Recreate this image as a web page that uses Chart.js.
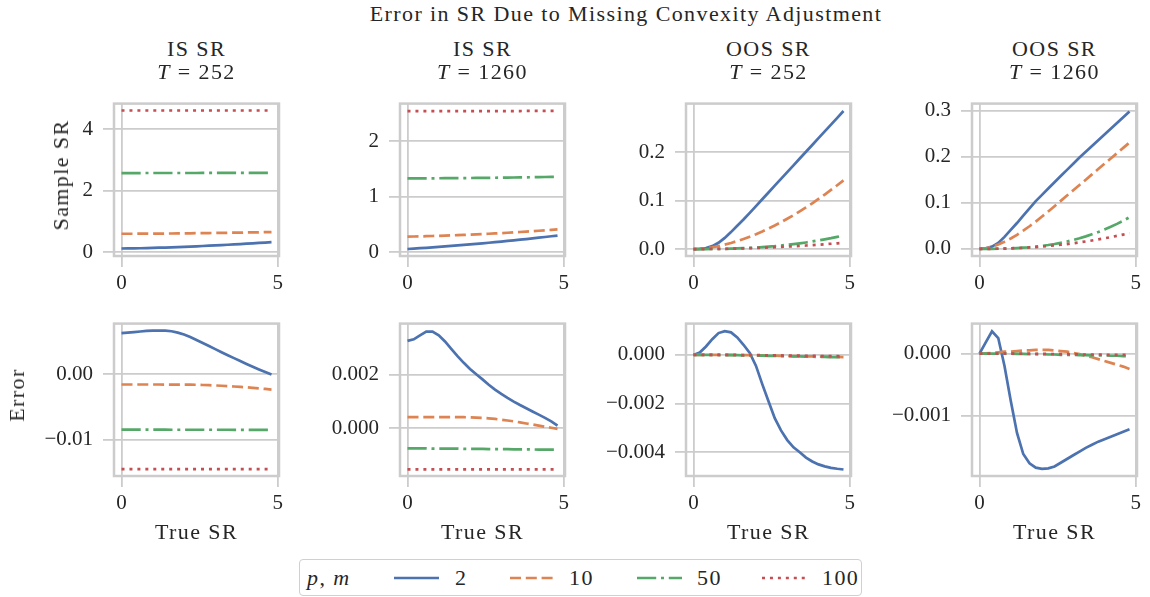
<!DOCTYPE html>
<html>
<head>
<meta charset="utf-8">
<script src="https://cdn.jsdelivr.net/npm/chart.js@4.4.0/dist/chart.umd.min.js"></script>
<style>
  body { margin: 0; width: 1150px; height: 597px; overflow: hidden; position: relative; background: #fff; color: #262626; }
  canvas { position: absolute; }
  .txt { position: absolute; white-space: nowrap; line-height: 1; letter-spacing: 1.4px; }
  #legend { position: absolute; left: 299px; top: 559px; width: 561px; height: 35px;
            border: 1.5px solid #d0d0d0; border-radius: 4px; background: #fff; }
  #legend .txt { font-size: 22px; }
  #legend svg { position: absolute; }
</style>
</head>
<body>
<script>
// x values (True SR) shared by every panel
const trueSR = [0, 0.2, 0.4, 0.6, 0.8, 1.0, 1.2, 1.4, 1.6, 1.8, 2.0, 2.2, 2.4, 2.6, 2.8, 3.0, 3.2, 3.4, 3.6, 3.8, 4.0, 4.2, 4.4, 4.6, 4.8];
const pmValues = ['2', '10', '50', '100'];

// --- top row: sample SR ---
const isT252_p2   = [0.120, 0.122, 0.125, 0.129, 0.134, 0.139, 0.146, 0.152, 0.160, 0.167, 0.176, 0.184, 0.193, 0.202, 0.212, 0.222, 0.232, 0.243, 0.254, 0.265, 0.277, 0.289, 0.301, 0.313, 0.326];
const isT252_p10  = [0.600, 0.600, 0.601, 0.602, 0.603, 0.604, 0.605, 0.607, 0.609, 0.611, 0.613, 0.615, 0.618, 0.620, 0.623, 0.626, 0.629, 0.632, 0.635, 0.638, 0.641, 0.645, 0.648, 0.652, 0.655];
const isT252_p50  = [2.573, 2.573, 2.573, 2.573, 2.574, 2.574, 2.574, 2.574, 2.574, 2.575, 2.575, 2.575, 2.575, 2.576, 2.576, 2.576, 2.576, 2.577, 2.577, 2.577, 2.577, 2.578, 2.578, 2.578, 2.578];
const isT252_p100 = [4.605, 4.605, 4.605, 4.605, 4.605, 4.605, 4.605, 4.605, 4.605, 4.605, 4.605, 4.605, 4.605, 4.605, 4.605, 4.605, 4.605, 4.605, 4.605, 4.605, 4.605, 4.605, 4.605, 4.605, 4.605];

const isT1260_p2   = [0.057, 0.064, 0.072, 0.079, 0.087, 0.095, 0.104, 0.112, 0.121, 0.131, 0.140, 0.150, 0.160, 0.170, 0.181, 0.191, 0.203, 0.214, 0.225, 0.237, 0.249, 0.262, 0.274, 0.287, 0.300];
const isT1260_p10  = [0.280, 0.283, 0.285, 0.288, 0.292, 0.295, 0.299, 0.303, 0.307, 0.312, 0.317, 0.322, 0.327, 0.332, 0.338, 0.344, 0.350, 0.357, 0.364, 0.371, 0.378, 0.386, 0.394, 0.402, 0.410];
const isT1260_p50  = [1.330, 1.330, 1.331, 1.331, 1.332, 1.333, 1.334, 1.335, 1.336, 1.337, 1.338, 1.339, 1.340, 1.341, 1.342, 1.344, 1.345, 1.347, 1.349, 1.350, 1.352, 1.354, 1.356, 1.358, 1.360];
const isT1260_p100 = [2.543, 2.543, 2.543, 2.543, 2.544, 2.544, 2.544, 2.544, 2.544, 2.545, 2.545, 2.545, 2.545, 2.545, 2.546, 2.546, 2.546, 2.546, 2.546, 2.547, 2.547, 2.547, 2.547, 2.548, 2.548];

const oosT252_p2   = [0, 0.0004, 0.002, 0.006, 0.013, 0.023, 0.035, 0.048, 0.061, 0.0747, 0.0887, 0.1027, 0.1167, 0.1307, 0.1447, 0.1587, 0.1727, 0.1867, 0.2007, 0.2147, 0.2287, 0.2427, 0.2567, 0.2707, 0.2847];
const oosT252_p10  = [0, 0.0005, 0.0018, 0.0037, 0.0062, 0.0091, 0.0126, 0.0165, 0.0208, 0.0256, 0.0307, 0.0363, 0.0423, 0.0486, 0.0553, 0.0625, 0.0698, 0.0777, 0.0859, 0.0944, 0.1033, 0.1124, 0.1219, 0.1317, 0.1417];
const oosT252_p50  = [0, 0.00001, 0.00006, 0.00015, 0.0003, 0.00056, 0.00088, 0.0013, 0.0018, 0.0024, 0.0031, 0.0040, 0.0050, 0.0060, 0.0073, 0.0087, 0.0102, 0.0118, 0.0136, 0.0156, 0.0178, 0.0201, 0.0225, 0.0252, 0.0280];
const oosT252_p100 = [0, 0.00002, 0.00009, 0.0002, 0.00036, 0.00056, 0.00081, 0.0011, 0.00144, 0.00183, 0.00226, 0.00273, 0.00325, 0.00381, 0.00442, 0.00508, 0.00578, 0.00652, 0.00731, 0.00814, 0.00902, 0.00995, 0.01092, 0.01193, 0.0130];

const oosT1260_p2   = [0, 0.001, 0.005, 0.013, 0.026, 0.041, 0.056, 0.072, 0.088, 0.1035, 0.117, 0.1308, 0.1445, 0.158, 0.1713, 0.1847, 0.198, 0.2105, 0.223, 0.2355, 0.248, 0.2605, 0.273, 0.2855, 0.298];
const oosT1260_p10  = [0, 0.001, 0.0045, 0.0095, 0.0155, 0.0225, 0.0305, 0.0395, 0.049, 0.059, 0.070, 0.081, 0.0925, 0.104, 0.1155, 0.127, 0.1385, 0.150, 0.1615, 0.173, 0.1845, 0.196, 0.2075, 0.219, 0.2305];
const oosT1260_p50  = [0, 0.00001, 0.00008, 0.00025, 0.00054, 0.00099, 0.0016, 0.0025, 0.0035, 0.0049, 0.0065, 0.0083, 0.0105, 0.0131, 0.016, 0.0193, 0.0229, 0.027, 0.0316, 0.0365, 0.0419, 0.0478, 0.0541, 0.0609, 0.0686];
const oosT1260_p100 = [0, 0.00003, 0.00014, 0.00035, 0.00066, 0.00108, 0.00161, 0.00226, 0.00304, 0.00393, 0.00496, 0.00612, 0.00741, 0.00883, 0.0104, 0.0121, 0.0140, 0.0160, 0.0181, 0.0204, 0.0228, 0.0254, 0.0281, 0.0310, 0.0340];

// --- bottom row: error ---
const errIsT252_p2   = [0.00634, 0.00641, 0.00649, 0.00658, 0.00666, 0.00671, 0.00673, 0.00671, 0.00662, 0.00641, 0.00612, 0.00572, 0.00527, 0.00481, 0.00434, 0.00387, 0.00340, 0.00294, 0.00249, 0.00204, 0.00160, 0.00117, 0.00075, 0.00035, -0.00003];
const errIsT252_p10  = [-0.00156, -0.00156, -0.00156, -0.00156, -0.00156, -0.00156, -0.00156, -0.00157, -0.00157, -0.00158, -0.00158, -0.00159, -0.00160, -0.00163, -0.00166, -0.00170, -0.00175, -0.00180, -0.00186, -0.00192, -0.00199, -0.00207, -0.00215, -0.00224, -0.00234];
const errIsT252_p50  = [-0.00849, -0.00849, -0.00849, -0.00849, -0.00849, -0.00849, -0.00849, -0.00849, -0.00850, -0.00850, -0.00850, -0.00850, -0.00850, -0.00850, -0.00850, -0.00850, -0.00850, -0.00850, -0.00851, -0.00851, -0.00851, -0.00851, -0.00851, -0.00851, -0.00851];
const errIsT252_p100 = [-0.01455, -0.01455, -0.01455, -0.01455, -0.01455, -0.01455, -0.01455, -0.01455, -0.01455, -0.01455, -0.01455, -0.01455, -0.01455, -0.01455, -0.01455, -0.01455, -0.01455, -0.01455, -0.01455, -0.01455, -0.01455, -0.01455, -0.01455, -0.01455, -0.01455];

const errIsT1260_p2   = [0.00327, 0.00333, 0.00348, 0.00362, 0.00362, 0.00348, 0.00325, 0.00297, 0.00270, 0.00245, 0.00222, 0.00202, 0.00183, 0.00163, 0.00145, 0.00129, 0.00114, 0.00100, 0.00087, 0.00075, 0.00063, 0.00051, 0.00039, 0.00026, 0.00010];
const errIsT1260_p10  = [0.00042, 0.00042, 0.00042, 0.00042, 0.00042, 0.00042, 0.00042, 0.00042, 0.00042, 0.000415, 0.00041, 0.00040, 0.00039, 0.00037, 0.00035, 0.00032, 0.00029, 0.00026, 0.00022, 0.00018, 0.00014, 0.00010, 0.00006, 0.00002, -0.00002];
const errIsT1260_p50  = [-0.00075, -0.00075, -0.00075, -0.00075, -0.00076, -0.00076, -0.00076, -0.00076, -0.00076, -0.00077, -0.00077, -0.00077, -0.00077, -0.00078, -0.00078, -0.00078, -0.00078, -0.00079, -0.00079, -0.00079, -0.00079, -0.00080, -0.00080, -0.00080, -0.00080];
const errIsT1260_p100 = [-0.00154, -0.00154, -0.00154, -0.00154, -0.00154, -0.00154, -0.00154, -0.00154, -0.00154, -0.00154, -0.00154, -0.00154, -0.00154, -0.00154, -0.00154, -0.00154, -0.00154, -0.00154, -0.00154, -0.00154, -0.00154, -0.00154, -0.00154, -0.00154, -0.00154];

const errOosT252_p2   = [0, 0.0001, 0.00035, 0.00065, 0.0009, 0.00098, 0.00093, 0.00072, 0.00042, 0.00008, -0.00045, -0.0012, -0.0019, -0.0026, -0.0031, -0.0035, -0.0038, -0.0040, -0.00422, -0.00438, -0.0045, -0.00458, -0.00464, -0.00468, -0.00471];
const errOosT252_p10  = [0, 0, 0, 0, 0, 0, 0, -0.00001, -0.00001, -0.00001, -0.00002, -0.00002, -0.00003, -0.00003, -0.00004, -0.00004, -0.00005, -0.00005, -0.00006, -0.00006, -0.00007, -0.00007, -0.00008, -0.00008, -0.00009];
const errOosT252_p50  = [0, 0, 0, 0, 0, -0.00001, -0.00001, -0.00001, -0.00002, -0.00002, -0.00003, -0.00003, -0.00004, -0.00004, -0.00005, -0.00005, -0.00006, -0.00006, -0.00007, -0.00007, -0.00008, -0.00008, -0.00009, -0.00009, -0.00010];
const errOosT252_p100 = [0, 0, 0, 0, 0, 0, 0, 0, -0.00001, -0.00001, -0.00001, -0.00001, -0.00002, -0.00002, -0.00002, -0.00003, -0.00003, -0.00003, -0.00004, -0.00004, -0.00004, -0.00005, -0.00005, -0.00005, -0.00006];

const errOosT1260_p2   = [0, 0.00018, 0.00036, 0.00025, -0.0002, -0.00076, -0.00128, -0.00162, -0.00177, -0.00184, -0.00186, -0.00185, -0.00182, -0.00176, -0.0017, -0.00164, -0.00158, -0.00152, -0.00147, -0.00142, -0.00138, -0.00134, -0.0013, -0.00126, -0.00122];
const errOosT1260_p10  = [0, 0.000005, 0.00001, 0.00002, 0.00003, 0.00003, 0.00004, 0.00005, 0.00005, 0.00006, 0.00006, 0.00006, 0.00005, 0.00004, 0.00003, 0.00001, -0.00001, -0.00004, -0.00006, -0.00009, -0.00012, -0.00015, -0.00018, -0.00021, -0.00025];
const errOosT1260_p50  = [0, 0, 0, 0, 0, 0, -0.000005, -0.000005, -0.00001, -0.00001, -0.00001, -0.000015, -0.000015, -0.00002, -0.00002, -0.00002, -0.000025, -0.000025, -0.00003, -0.00003, -0.00003, -0.000035, -0.000035, -0.00004, -0.00004];
const errOosT1260_p100 = [0, 0, 0, 0, 0, 0, 0, 0, 0, -0.000005, -0.000005, -0.000005, -0.00001, -0.00001, -0.00001, -0.00001, -0.000015, -0.000015, -0.000015, -0.000015, -0.00002, -0.00002, -0.00002, -0.00002, -0.00002];

// tick values and labels
const xTicks = [0, 5];
const xTickLabels = ['0', '5'];
const yTicksIsT252 = [0, 2, 4];                 const yLabelsIsT252 = ['0', '2', '4'];
const yTicksIsT1260 = [0, 1, 2];                const yLabelsIsT1260 = ['0', '1', '2'];
const yTicksOosT252 = [0, 0.1, 0.2];            const yLabelsOosT252 = ['0.0', '0.1', '0.2'];
const yTicksOosT1260 = [0, 0.1, 0.2, 0.3];      const yLabelsOosT1260 = ['0.0', '0.1', '0.2', '0.3'];
const yTicksErrIsT252 = [-0.01, 0];             const yLabelsErrIsT252 = ['\u22120.01', '0.00'];
const yTicksErrIsT1260 = [0, 0.002];            const yLabelsErrIsT1260 = ['0.000', '0.002'];
const yTicksErrOosT252 = [-0.004, -0.002, 0];   const yLabelsErrOosT252 = ['\u22120.004', '\u22120.002', '0.000'];
const yTicksErrOosT1260 = [-0.001, 0];          const yLabelsErrOosT1260 = ['\u22120.001', '0.000'];

const colTitles = ['IS SR', 'IS SR', 'OOS SR', 'OOS SR'];
const colT = ['252', '1260', '252', '1260'];

// layout (px)
const COLS = [114, 400, 686, 972], ROWS = [95, 315], BW = 165, BH = 161;
const PL = 110, PT = 14, PR = 10, PB = 45;
const GRID = '#cccccc';
const styles = [
  { color: '#4c72b0', dash: [] },
  { color: '#dd8452', dash: [11, 4.8] },
  { color: '#55a868', dash: [19.2, 4.8, 3, 4.8] },
  { color: '#c44e52', dash: [3, 4.95] }
];

// pick the first installed serif face (stand-in for Computer Modern)
function fontAvailable(name) {
  const c = document.createElement('canvas').getContext('2d');
  const s = 'abcdefghijklmnopqrstuvwxyzABCDEFGHIJ0123456789';
  return ['monospace', 'sans-serif'].some(g => {
    c.font = '40px ' + g;
    const w0 = c.measureText(s).width;
    c.font = '40px "' + name + '", ' + g;
    return Math.abs(c.measureText(s).width - w0) > 0.5;
  });
}
const serifName = ['Liberation Serif', 'Times New Roman', 'Tinos', 'DejaVu Serif', 'Noto Serif']
  .find(fontAvailable);
const FONT = serifName ? '"' + serifName + '", serif' : 'serif';
document.body.style.fontFamily = FONT;

Chart.defaults.font.family = FONT;
Chart.defaults.color = '#262626';

const panels = [
  { col: 0, row: 0, series: [isT252_p2, isT252_p10, isT252_p50, isT252_p100], yMin: -0.123, yMax: 4.83, yTicks: yTicksIsT252, yLabels: yLabelsIsT252 },
  { col: 1, row: 0, series: [isT1260_p2, isT1260_p10, isT1260_p50, isT1260_p100], yMin: -0.069, yMax: 2.68, yTicks: yTicksIsT1260, yLabels: yLabelsIsT1260 },
  { col: 2, row: 0, series: [oosT252_p2, oosT252_p10, oosT252_p50, oosT252_p100], yMin: -0.0143, yMax: 0.300, yTicks: yTicksOosT252, yLabels: yLabelsOosT252 },
  { col: 3, row: 0, series: [oosT1260_p2, oosT1260_p10, oosT1260_p50, oosT1260_p100], yMin: -0.0155, yMax: 0.315, yTicks: yTicksOosT1260, yLabels: yLabelsOosT1260 },
  { col: 0, row: 1, series: [errIsT252_p2, errIsT252_p10, errIsT252_p50, errIsT252_p100], yMin: -0.0156, yMax: 0.00779, yTicks: yTicksErrIsT252, yLabels: yLabelsErrIsT252 },
  { col: 1, row: 1, series: [errIsT1260_p2, errIsT1260_p10, errIsT1260_p50, errIsT1260_p100], yMin: -0.001786, yMax: 0.003918, yTicks: yTicksErrIsT1260, yLabels: yLabelsErrIsT1260 },
  { col: 2, row: 1, series: [errOosT252_p2, errOosT252_p10, errOosT252_p50, errOosT252_p100], yMin: -0.004977, yMax: 0.00129, yTicks: yTicksErrOosT252, yLabels: yLabelsErrOosT252 },
  { col: 3, row: 1, series: [errOosT1260_p2, errOosT1260_p10, errOosT1260_p50, errOosT1260_p100], yMin: -0.001974, yMax: 0.000483, yTicks: yTicksErrOosT1260, yLabels: yLabelsErrOosT1260 }
];

// spines on all four sides, drawn over the lines like matplotlib
const boxPlugin = {
  id: 'box',
  afterDatasetsDraw(chart) {
    const { ctx, chartArea: a } = chart;
    ctx.save();
    ctx.strokeStyle = GRID;
    ctx.lineWidth = 2.5;
    ctx.strokeRect(a.left, a.top, a.right - a.left, a.bottom - a.top);
    ctx.restore();
  }
};

function makePanel(p) {
  const cv = document.createElement('canvas');
  const w = PL + BW + PR, h = PT + BH + PB;
  cv.width = w; cv.height = h;
  cv.style.left = (COLS[p.col] - PL) + 'px';
  cv.style.top = (ROWS[p.row] - PT) + 'px';
  document.body.appendChild(cv);

  new Chart(cv.getContext('2d'), {
    type: 'line',
    data: {
      datasets: p.series.map((s, k) => ({
        label: pmValues[k],
        data: trueSR.map((x, j) => ({ x: x, y: s[j] })),
        borderColor: styles[k].color,
        borderDash: styles[k].dash,
        borderWidth: 2.7,
        pointRadius: 0,
        tension: 0,
        fill: false,
        order: 3 - k
      }))
    },
    options: {
      responsive: false,
      animation: false,
      layout: { padding: { left: 0, top: PT, right: PR, bottom: 0 } },
      plugins: { legend: { display: false }, tooltip: { enabled: false } },
      scales: {
        x: {
          type: 'linear', min: -0.24, max: 5.04, bounds: 'data',
          afterBuildTicks: s => { s.ticks = xTicks.map(v => ({ value: v })); },
          afterFit: s => { s.height = PB; },
          ticks: { autoSkip: false, maxRotation: 0, padding: 4, font: { size: 21 }, callback: (v, i) => xTickLabels[i] },
          grid: { color: GRID, lineWidth: 1.8, tickLength: 11 },
          border: { display: false }
        },
        y: {
          type: 'linear', min: p.yMin, max: p.yMax, bounds: 'data',
          afterBuildTicks: s => { s.ticks = p.yTicks.map(v => ({ value: v })); },
          afterFit: s => { s.width = PL; },
          ticks: { autoSkip: false, padding: 10, font: { size: 21 }, callback: (v, i) => p.yLabels[i] },
          grid: { color: GRID, lineWidth: 1.8, tickLength: 11 },
          border: { display: false }
        }
      }
    },
    plugins: [boxPlugin]
  });
}

function addText(html, cx, cy, size, rot) {
  const d = document.createElement('div');
  d.className = 'txt';
  d.innerHTML = html;
  d.style.fontSize = size + 'px';
  d.style.left = cx + 'px';
  d.style.top = cy + 'px';
  d.style.transform = 'translate(-50%, -50%)' + (rot ? ' rotate(' + rot + 'deg)' : '');
  document.body.appendChild(d);
}

panels.forEach(makePanel);

// titles and axis labels
addText('Error in SR Due to Missing Convexity Adjustment', 626, 14, 22);
COLS.forEach((c, i) => {
  const cx = c + BW / 2;
  addText(colTitles[i], cx, 49, 22);
  addText('<i>T</i> = ' + colT[i], cx, 72, 22);
  addText('True SR', cx, 532, 22);
});
addText('Sample SR', 61, 175, 22, -90);
addText('Error', 17, 395, 22, -90);

// legend
const legend = document.createElement('div');
legend.id = 'legend';
document.body.appendChild(legend);
function legText(html, left) {
  const d = document.createElement('div');
  d.className = 'txt';
  d.innerHTML = html;
  d.style.left = left + 'px';
  d.style.top = '18px';
  d.style.transform = 'translateY(-50%)';
  legend.appendChild(d);
}
legText('<i>p</i>, <i>m</i>', 7);
const legLineX = [94, 210, 337, 462];
const legTextX = [155, 269, 397, 522];
pmValues.forEach((v, k) => {
  const svg = document.createElementNS('http://www.w3.org/2000/svg', 'svg');
  svg.setAttribute('width', 46); svg.setAttribute('height', 8);
  svg.style.left = legLineX[k] + 'px'; svg.style.top = '14px';
  const ln = document.createElementNS('http://www.w3.org/2000/svg', 'line');
  ln.setAttribute('x1', 0); ln.setAttribute('y1', 4); ln.setAttribute('x2', 45); ln.setAttribute('y2', 4);
  ln.setAttribute('stroke', styles[k].color); ln.setAttribute('stroke-width', 2.7);
  if (styles[k].dash.length) ln.setAttribute('stroke-dasharray', styles[k].dash.join(' '));
  svg.appendChild(ln);
  legend.appendChild(svg);
  legText(v, legTextX[k]);
});
</script>
</body>
</html>
